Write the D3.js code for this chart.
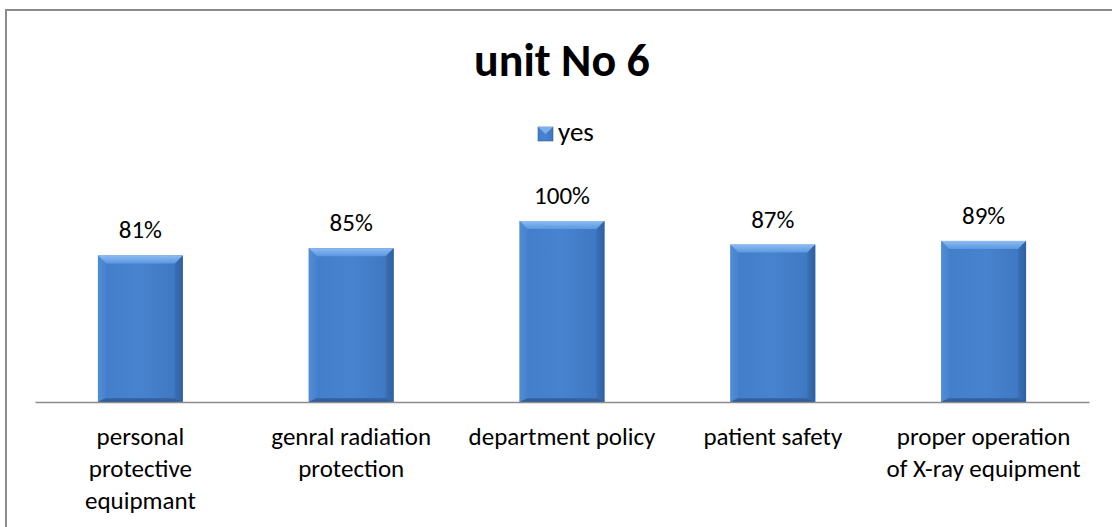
<!DOCTYPE html>
<html>
<head>
<meta charset="utf-8">
<script src="https://cdn.jsdelivr.net/npm/d3@7/dist/d3.min.js"></script>
<style>
  html, body { margin:0; padding:0; background:#fff; overflow:hidden; }
  svg text { font-family: Carlito, Calibri, Lato, sans-serif; fill:#000; }
</style>
</head>
<body>
<div id="chart"></div>
<script>
// ---------------- dados
var categories = ["personal\nprotective\nequipmant", "genral radiation\nprotection",
                  "department policy", "patient safety", "proper operation\nof X-ray equipment"];
var yesValues = [0.81, 0.85, 1.00, 0.87, 0.89];
var seriesName = "yes";
var chartTitle = "unit No 6";

var W = 1112, H = 527,
    _plot = {left:35, right:1089, top:184.8, bottom:402},
    _bevel = 8,
    _fontSize = 25;

var svg = d3.select("#chart").append("svg").attr("width", W).attr("height", H);

//---------------- gradientes
var defs = svg.append("defs");
function grad(id, stops, vertical) {
  var g = defs.append("linearGradient").attr("id", id)
     .attr("x1", 0).attr("y1", 0).attr("x2", vertical ? 0 : 1).attr("y2", vertical ? 1 : 0);
  stops.forEach(function (s) { g.append("stop").attr("offset", s[0]).attr("stop-color", s[1]); });
}
grad("gFace",  [[0, "#427dc9"], [0.5, "#4883cf"], [1, "#3d76c0"]], false);
grad("gTop",   [[0, "#8dbcf2"], [1, "#5b98e0"]], true);
grad("gLeft",  [[0, "#5a93db"], [1, "#4a84cf"]], false);
grad("gRight", [[0, "#386db2"], [1, "#2c5b99"]], false);
grad("gBot",   [[0, "#3869ad"], [1, "#2a5793"]], true);

//---------------- borda externa (cortada a direita e embaixo)
svg.append("rect").attr("x", 6).attr("y", 10).attr("width", W + 20).attr("height", H + 20)
   .attr("fill", "none").attr("stroke", "#8c8c8c").attr("stroke-width", 2);

//---------------- escalas
var x = d3.scaleBand().domain(categories).range([_plot.left, _plot.right])
          .paddingInner(0.597).paddingOuter(0.2985);
var y = d3.scaleLinear().domain([0, 1.2]).range([_plot.bottom, _plot.top]);

//---------------- titulo
svg.append("text").attr("x", W / 2 + 6).attr("y", 76).attr("text-anchor", "middle")
   .style("font-size", "46px").style("font-weight", "bold").text(chartTitle);

//---------------- legenda
var leg = svg.append("g");
leg.append("rect").attr("x", 538).attr("y", 127).attr("width", 15).attr("height", 14)
   .attr("fill", "url(#gFace)").attr("stroke", "#2f5f9f").attr("stroke-width", 0.6);
leg.append("path").attr("d", "M538,127 L553,127 L545.5,134 Z").attr("fill", "#7fb0ec");
leg.append("text").attr("x", 558).attr("y", 141).style("font-size", "27px").text(seriesName);

//---------------- barras
var bars = svg.append("g").selectAll("g").data(yesValues).enter().append("g");

bars.each(function (d, i) {
  var g = d3.select(this),
      x0 = x(categories[i]), x1 = x0 + x.bandwidth(),
      t = y(d), b = y(0), k = _bevel;
  g.append("rect").attr("x", x0).attr("y", t).attr("width", x1 - x0).attr("height", b - t)
   .attr("fill", "url(#gFace)");
  g.append("polygon").attr("points", [[x0,t],[x1,t],[x1-k,t+k],[x0+k,t+k]].join(" ")).attr("fill", "url(#gTop)");
  g.append("polygon").attr("points", [[x0,t],[x0+k,t+k],[x0+k,b-k/2],[x0,b]].join(" ")).attr("fill", "url(#gLeft)").attr("opacity", 0.7);
  g.append("polygon").attr("points", [[x1,t],[x1-k,t+k],[x1-k,b-k/2],[x1,b]].join(" ")).attr("fill", "url(#gRight)").attr("opacity", 0.8);
  g.append("polygon").attr("points", [[x0,b],[x0+k,b-k/2],[x1-k,b-k/2],[x1,b]].join(" ")).attr("fill", "url(#gBot)");
  // rotulo
  g.append("text").attr("x", (x0 + x1) / 2).attr("y", t - 17).attr("text-anchor", "middle")
   .style("font-size", _fontSize + "px").text(Math.round(d * 100) + "%");
});

//---------------- eixo x
var axis = svg.append("g").attr("transform", "translate(0," + _plot.bottom + ")")
   .call(d3.axisBottom(x).tickSize(0).tickFormat(""));
axis.select(".domain").attr("stroke", "#8c8c8c").attr("stroke-width", 1.5);

var labels = svg.append("g").selectAll("text").data(categories).enter().append("text")
   .attr("text-anchor", "middle").style("font-size", _fontSize + "px")
   .attr("transform", function (d) { return "translate(" + (x(d) + x.bandwidth() / 2) + ",445)"; });
labels.each(function (d) {
  var lines = d.split("\n");
  d3.select(this).selectAll("tspan").data(lines).enter().append("tspan")
    .attr("x", 0).attr("dy", function (l, j) { return j === 0 ? 0 : 32; }).text(function (l) { return l; });
});
</script>
</body>
</html>
